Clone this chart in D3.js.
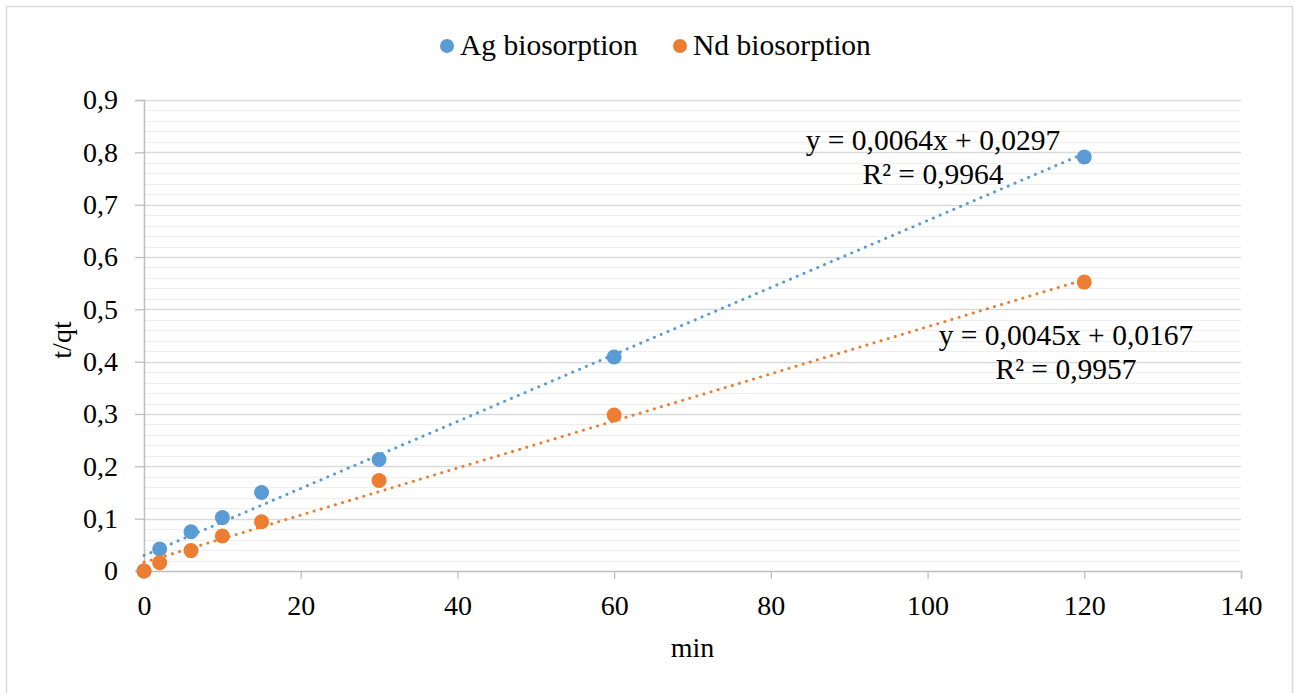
<!DOCTYPE html>
<html>
<head>
<meta charset="utf-8">
<script src="https://cdn.jsdelivr.net/npm/d3@7"></script>
<style>
  html, body { margin: 0; padding: 0; background: #fff; }
  svg { display: block; }
  svg text { font-family: "Liberation Serif", "DejaVu Serif", serif !important; fill: #000; }
</style>
</head>
<body>
<svg id="chart" width="1295" height="693"></svg>
<script>
// Sampling times (min)
const times = [0, 2, 6, 10, 15, 30, 60, 120];
// t/qt values for each metal
const agValues = [0, 0.042, 0.075, 0.102, 0.150, 0.213, 0.409, 0.791];
const ndValues = [0, 0.016, 0.039, 0.067, 0.094, 0.173, 0.298, 0.552];
// Linear trendline coefficients [slope, intercept, R²]
const agFit = [0.0064, 0.0297, 0.9964];
const ndFit = [0.0045, 0.0167, 0.9957];
const seriesNames = ["Ag biosorption", "Nd biosorption"];
const xTicks = [0, 20, 40, 60, 80, 100, 120, 140];
const yTicks = [0, 0.1, 0.2, 0.3, 0.4, 0.5, 0.6, 0.7, 0.8, 0.9];

const colors = ["#5b9bd5", "#ed7d31"];
const FONT = 28;       // axis ticks and titles
const FONT_BIG = 29.5; // legend and trendline equations
const svg = d3.select("#chart");
const plotLeft = 144, plotRight = 1241, plotTop = 100, plotBottom = 571;

// Outer chart frame
svg.append("rect").attr("x", 6.5).attr("y", 6.5).attr("width", 1286).attr("height", 700)
  .attr("fill", "#fff").attr("stroke", "#d9d9d9").attr("stroke-width", 1.5);

const x = d3.scaleLinear().domain([0, 140]).range([plotLeft, plotRight]);
const y = d3.scaleLinear().domain([0, 0.9]).range([plotBottom, plotTop]);

const fmt = v => (v === 0 ? "0" : d3.format(".1f")(v).replace(".", ","));

// Minor gridlines
const minor = d3.range(0, 0.9001, 0.02).filter(v => Math.abs(Math.round(v * 10) - v * 10) > 1e-6);
svg.append("g").selectAll("line").data(minor).join("line")
  .attr("x1", plotLeft).attr("x2", plotRight)
  .attr("y1", d => Math.round(y(d)) + 0.5).attr("y2", d => Math.round(y(d)) + 0.5)
  .attr("stroke", "#efefef").attr("stroke-width", 1);

// Major gridlines
svg.append("g").selectAll("line").data(yTicks.slice(1)).join("line")
  .attr("x1", plotLeft).attr("x2", plotRight)
  .attr("y1", d => Math.round(y(d)) + 0.5).attr("y2", d => Math.round(y(d)) + 0.5)
  .attr("stroke", "#d9d9d9").attr("stroke-width", 1.3);

// Y axis
const yAxis = svg.append("g").attr("transform", `translate(${plotLeft},0)`)
  .call(d3.axisLeft(y).tickValues(yTicks).tickFormat(fmt).tickSize(9).tickPadding(17));
yAxis.attr("font-family", null).attr("font-size", null);
yAxis.select(".domain").attr("stroke", "#bfbfbf").attr("stroke-width", 1.5);
yAxis.selectAll(".tick line").attr("stroke", "#bfbfbf").attr("stroke-width", 1.3);
yAxis.selectAll(".tick text").style("font-size", FONT + "px").attr("fill", "#000");

// X axis
const xAxis = svg.append("g").attr("transform", `translate(0,${plotBottom})`)
  .call(d3.axisBottom(x).tickValues(xTicks).tickFormat(d3.format("d")).tickSize(8).tickPadding(16));
xAxis.attr("font-family", null).attr("font-size", null);
xAxis.select(".domain").attr("stroke", "#bfbfbf").attr("stroke-width", 1.5);
xAxis.selectAll(".tick line").attr("stroke", "#bfbfbf").attr("stroke-width", 1.3);
xAxis.selectAll(".tick text").style("font-size", FONT + "px").attr("fill", "#000");

// Axis titles
svg.append("text").attr("x", (plotLeft + plotRight) / 2).attr("y", 657).attr("text-anchor", "middle")
  .style("font-size", FONT + "px").text("min");
svg.append("text").attr("transform", `translate(71,340) rotate(-90)`)
  .attr("text-anchor", "middle").style("font-size", FONT + "px").text("t/qt");

// Trendlines
const fits = [agFit, ndFit];
fits.forEach((f, i) => {
  svg.append("line")
    .attr("x1", x(0)).attr("y1", y(f[1]))
    .attr("x2", x(120)).attr("y2", y(f[0] * 120 + f[1]))
    .attr("stroke", colors[i]).attr("stroke-width", 3)
    .attr("stroke-dasharray", "0.1 7.3").attr("stroke-linecap", "round");
});

// Data points
const series = [agValues, ndValues];
series.forEach((vals, i) => {
  svg.append("g").selectAll("circle").data(vals.map((v, j) => [times[j], v])).join("circle")
    .attr("cx", d => x(d[0])).attr("cy", d => y(d[1])).attr("r", 7.5)
    .attr("fill", colors[i]);
});

// Trendline equations
const eqFmt = v => String(v).replace(".", ",");
function equation(f, cx, cy) {
  svg.append("text").attr("x", cx).attr("y", cy).attr("text-anchor", "middle")
    .style("font-size", FONT_BIG + "px").text(`y = ${eqFmt(f[0])}x + ${eqFmt(f[1])}`);
  svg.append("text").attr("x", cx).attr("y", cy + 34).attr("text-anchor", "middle")
    .style("font-size", FONT_BIG + "px").text(`R² = ${eqFmt(f[2])}`);
}
equation(agFit, 933, 150);
equation(ndFit, 1066, 345);

// Legend
const legend = [
  { name: seriesNames[0], color: colors[0], x: 447 },
  { name: seriesNames[1], color: colors[1], x: 680 }
];
legend.forEach(l => {
  svg.append("circle").attr("cx", l.x).attr("cy", 46).attr("r", 7).attr("fill", l.color);
  svg.append("text").attr("x", l.x + 13).attr("y", 55).style("font-size", FONT_BIG + "px").text(l.name);
});
</script>
</body>
</html>
